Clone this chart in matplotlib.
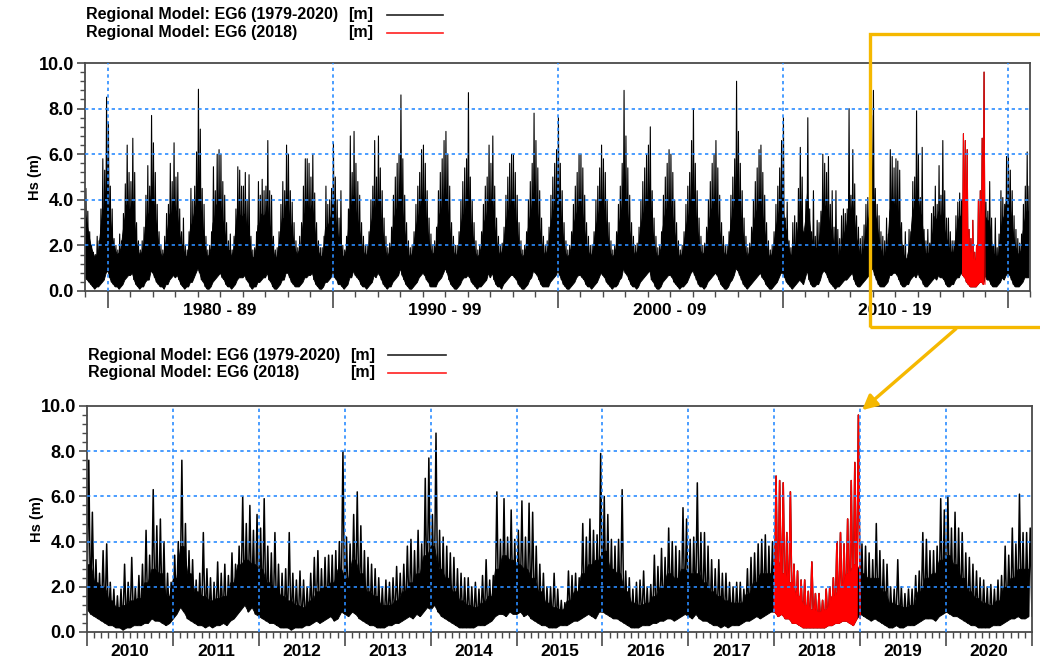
import matplotlib

matplotlib.use("Agg")
import matplotlib.pyplot as plt
import numpy as np
from matplotlib.lines import Line2D
from matplotlib.patches import FancyArrowPatch, Rectangle
from matplotlib.ticker import MultipleLocator
from matplotlib.transforms import blended_transform_factory

plt.rcParams["font.family"] = ["Liberation Sans", "DejaVu Sans"]
plt.rcParams["font.weight"] = "bold"

# --- data ----------------------------------------------------------------
# Hs [m], 2010..2020: half-monthly peaks / lows (24 per year),
# monthly level of the solid band (12 per year)
ZOOM_YEARS = list(range(2010, 2021))
HALF_MONTH_MAX = [
    [7.6, 5.3, 3.2, 2.6, 3.6, 3.9, 2.2, 1.9, 1.6, 1.9, 3.0, 2.2, 3.3, 2.0, 2.5, 3.0, 4.5, 3.4, 6.3, 4.7, 5.0, 4.0, 2.6, 2.2],
    [3.4, 4.0, 7.6, 4.8, 3.6, 3.2, 2.3, 2.6, 4.4, 2.8, 2.4, 2.2, 3.1, 2.6, 3.0, 2.5, 3.5, 3.0, 3.8, 6.0, 4.8, 5.6, 4.5, 5.2],
    [4.6, 5.9, 3.8, 3.5, 4.4, 3.0, 2.6, 2.8, 4.4, 2.6, 2.3, 2.7, 2.3, 2.0, 2.6, 3.3, 3.6, 2.8, 3.3, 3.4, 3.4, 3.6, 4.0, 8.0],
    [4.2, 3.9, 5.2, 6.2, 4.7, 3.6, 3.3, 3.0, 2.8, 2.4, 2.0, 2.3, 2.2, 2.4, 2.9, 2.6, 3.0, 3.8, 4.1, 3.6, 4.5, 3.9, 6.8, 7.7],
    [5.2, 8.8, 4.5, 4.2, 3.8, 3.5, 3.3, 2.8, 2.6, 2.4, 2.4, 2.0, 2.2, 1.9, 2.5, 3.2, 2.3, 2.5, 6.2, 4.1, 5.9, 4.2, 5.4, 4.1],
    [4.5, 5.8, 4.2, 5.7, 5.3, 3.8, 3.0, 2.6, 2.0, 2.0, 2.6, 1.9, 1.4, 1.3, 2.7, 2.5, 2.6, 2.4, 4.8, 4.2, 5.0, 4.5, 4.3, 7.9],
    [6.0, 5.2, 4.1, 3.8, 4.1, 6.3, 2.7, 2.4, 1.9, 2.2, 2.3, 2.7, 2.0, 2.1, 3.4, 2.9, 3.7, 3.3, 4.6, 4.0, 3.8, 3.6, 5.5, 5.0],
    [4.1, 4.2, 6.6, 4.4, 4.4, 3.8, 3.2, 2.8, 3.2, 2.6, 2.6, 2.2, 2.0, 2.2, 2.2, 1.9, 2.8, 3.3, 3.5, 3.9, 4.1, 4.3, 3.8, 4.0],
    [6.9, 6.7, 6.6, 4.4, 6.2, 3.0, 2.7, 2.3, 2.3, 1.8, 3.1, 1.7, 1.7, 1.4, 1.9, 2.0, 2.4, 4.0, 4.4, 3.9, 5.0, 6.7, 7.5, 9.6],
    [3.9, 3.8, 3.5, 3.2, 4.8, 3.6, 3.2, 3.0, 2.0, 1.9, 3.2, 2.0, 1.7, 1.9, 1.9, 2.5, 2.7, 4.4, 4.1, 3.6, 3.6, 3.8, 5.9, 5.4],
    [6.0, 4.6, 5.3, 4.6, 4.4, 3.5, 3.3, 3.0, 2.7, 2.4, 2.3, 2.0, 2.1, 1.9, 2.3, 2.5, 3.8, 3.4, 4.6, 3.9, 6.1, 4.4, 4.4, 4.6],
]
HALF_MONTH_MIN = [
    [1.0, 0.8, 0.7, 0.6, 0.5, 0.4, 0.3, 0.3, 0.2, 0.2, 0.1, 0.2, 0.2, 0.3, 0.3, 0.3, 0.4, 0.4, 0.6, 0.5, 0.5, 0.4, 0.3, 0.4],
    [0.6, 0.8, 1.1, 0.9, 0.6, 0.5, 0.4, 0.3, 0.3, 0.2, 0.3, 0.2, 0.3, 0.3, 0.4, 0.3, 0.5, 0.6, 0.8, 1.0, 1.2, 0.9, 1.1, 0.8],
    [0.7, 0.6, 0.5, 0.4, 0.4, 0.3, 0.2, 0.2, 0.2, 0.1, 0.2, 0.2, 0.2, 0.3, 0.3, 0.4, 0.5, 0.4, 0.5, 0.6, 0.7, 0.5, 0.6, 0.9],
    [0.8, 0.7, 0.9, 0.8, 0.6, 0.5, 0.4, 0.3, 0.3, 0.2, 0.2, 0.2, 0.3, 0.3, 0.4, 0.4, 0.5, 0.6, 0.7, 0.6, 0.8, 0.7, 0.9, 1.1],
    [1.0, 1.2, 0.9, 0.7, 0.6, 0.5, 0.4, 0.3, 0.2, 0.2, 0.2, 0.2, 0.2, 0.3, 0.3, 0.3, 0.4, 0.5, 0.7, 0.8, 0.8, 0.7, 0.9, 0.8],
    [0.8, 0.9, 0.7, 0.8, 0.6, 0.5, 0.4, 0.3, 0.3, 0.2, 0.2, 0.2, 0.3, 0.3, 0.3, 0.4, 0.5, 0.5, 0.6, 0.7, 0.8, 0.7, 0.6, 0.9],
    [0.9, 0.8, 0.7, 0.6, 0.6, 0.5, 0.4, 0.3, 0.2, 0.2, 0.2, 0.3, 0.3, 0.3, 0.4, 0.4, 0.5, 0.5, 0.6, 0.6, 0.5, 0.6, 0.7, 0.8],
    [0.7, 0.6, 0.8, 0.6, 0.5, 0.5, 0.4, 0.3, 0.3, 0.2, 0.3, 0.2, 0.3, 0.3, 0.3, 0.4, 0.5, 0.5, 0.6, 0.7, 0.6, 0.7, 0.8, 0.9],
    [0.9, 0.7, 0.8, 0.6, 0.6, 0.4, 0.4, 0.3, 0.2, 0.2, 0.2, 0.2, 0.2, 0.2, 0.2, 0.3, 0.3, 0.4, 0.4, 0.5, 0.5, 0.4, 0.3, 0.6],
    [0.8, 0.7, 0.6, 0.5, 0.6, 0.5, 0.4, 0.3, 0.2, 0.2, 0.3, 0.2, 0.2, 0.3, 0.3, 0.3, 0.4, 0.5, 0.6, 0.6, 0.6, 0.5, 0.7, 0.8],
    [0.9, 0.8, 0.7, 0.7, 0.6, 0.5, 0.4, 0.3, 0.3, 0.2, 0.2, 0.2, 0.2, 0.3, 0.3, 0.3, 0.4, 0.5, 0.6, 0.6, 0.7, 0.6, 0.6, 0.7],
]
ZOOM_BAND = [
    [3.0, 2.2, 2.0, 1.4, 1.1, 1.2, 1.4, 1.5, 2.2, 2.8, 2.6, 1.6],
    [2.4, 3.8, 2.6, 1.8, 1.6, 1.4, 1.5, 1.6, 2.2, 3.0, 3.2, 3.0],
    [2.8, 2.2, 2.0, 1.6, 1.4, 1.2, 1.1, 1.4, 1.8, 2.0, 2.2, 2.8],
    [2.4, 3.2, 2.6, 1.8, 1.6, 1.2, 1.2, 1.4, 1.8, 2.2, 2.6, 3.4],
    [3.8, 2.8, 2.4, 1.8, 1.4, 1.2, 1.1, 1.3, 1.6, 2.8, 3.4, 3.2],
    [3.0, 2.8, 2.4, 1.8, 1.3, 1.1, 1.0, 1.4, 1.8, 2.6, 3.0, 3.2],
    [3.6, 2.8, 2.6, 1.8, 1.3, 1.2, 1.3, 1.6, 2.0, 2.6, 2.4, 2.8],
    [2.6, 2.6, 2.2, 1.8, 1.6, 1.4, 1.3, 1.3, 1.7, 2.2, 2.6, 2.6],
    [3.2, 2.6, 2.2, 1.6, 1.2, 1.0, 0.9, 1.0, 1.6, 2.0, 2.6, 3.0],
    [2.6, 2.4, 2.4, 1.8, 1.3, 1.2, 1.1, 1.2, 1.8, 2.4, 2.6, 3.2],
    [3.4, 3.0, 2.4, 1.8, 1.5, 1.3, 1.2, 1.4, 2.0, 2.4, 2.8, 2.8],
]

# Hs [m], 1979..2009: monthly peaks / lows
LONG_YEARS = list(range(1979, 2010))
MONTH_MAX = [
    [4.5, 3.5, 2.6, 2.0, 1.7, 1.6, 2.4, 2.2, 3.6, 5.8, 5.3, 8.5],
    [7.4, 4.6, 3.6, 2.3, 2.0, 1.8, 2.5, 2.2, 3.4, 4.7, 6.4, 5.2],
    [4.8, 6.7, 5.2, 3.0, 2.2, 1.8, 2.2, 2.8, 4.2, 5.5, 4.6, 7.7],
    [6.5, 5.2, 3.8, 2.6, 2.0, 1.8, 2.4, 3.4, 3.8, 5.6, 4.8, 6.5],
    [5.0, 5.2, 3.6, 2.6, 3.2, 2.0, 1.8, 2.6, 4.5, 4.0, 4.6, 6.1],
    [8.85, 7.1, 4.5, 3.8, 2.4, 1.8, 2.0, 2.6, 5.45, 4.4, 6.0, 6.2],
    [6.0, 4.8, 4.2, 3.0, 2.2, 2.5, 1.8, 2.4, 3.6, 5.45, 5.3, 4.6],
    [4.6, 5.2, 4.0, 5.1, 2.4, 1.8, 1.9, 2.6, 4.8, 4.2, 4.9, 4.4],
    [4.6, 6.6, 4.4, 4.2, 2.4, 1.8, 1.9, 2.6, 3.8, 4.8, 4.4, 6.4],
    [6.0, 4.4, 3.9, 3.0, 2.2, 1.9, 2.4, 3.0, 4.6, 5.8, 5.8, 5.6],
    [5.0, 6.0, 4.3, 3.0, 2.2, 1.9, 1.9, 2.4, 4.6, 3.8, 4.0, 4.5],
    [6.5, 5.0, 4.0, 3.2, 4.4, 2.0, 1.8, 2.4, 3.6, 6.8, 5.2, 7.0],
    [5.6, 4.8, 4.2, 3.0, 2.4, 2.0, 2.0, 2.6, 4.0, 4.6, 6.6, 5.0],
    [6.8, 5.4, 4.4, 3.2, 2.4, 1.9, 2.1, 2.8, 4.2, 5.0, 5.6, 6.0],
    [8.6, 5.8, 4.2, 3.0, 2.2, 1.9, 2.0, 2.6, 3.8, 4.6, 5.2, 6.2],
    [6.4, 5.6, 4.4, 3.2, 2.5, 2.0, 2.2, 2.8, 4.4, 5.2, 5.8, 6.6],
    [7.0, 6.0, 4.6, 3.0, 2.4, 2.0, 2.0, 2.6, 4.0, 4.8, 5.4, 5.8],
    [8.7, 5.0, 4.0, 3.0, 2.2, 1.8, 2.0, 2.6, 3.8, 4.6, 5.0, 6.4],
    [5.6, 6.8, 4.6, 3.2, 2.4, 2.0, 2.1, 2.8, 4.2, 5.0, 5.6, 6.0],
    [6.0, 5.2, 4.2, 3.0, 2.2, 1.8, 2.0, 2.6, 4.0, 4.8, 5.6, 7.8],
    [6.6, 5.4, 4.4, 3.2, 2.4, 2.0, 2.2, 2.8, 4.2, 5.0, 5.6, 6.2],
    [7.6, 5.6, 4.4, 3.0, 2.2, 1.8, 2.0, 2.6, 3.8, 4.6, 5.2, 6.0],
    [6.0, 5.4, 4.2, 3.0, 2.4, 2.0, 2.0, 2.6, 4.0, 4.6, 5.4, 6.4],
    [5.8, 5.2, 4.0, 3.0, 2.2, 1.8, 2.0, 2.6, 3.8, 4.6, 5.6, 8.8],
    [6.8, 5.4, 4.2, 3.0, 2.4, 2.0, 2.1, 2.8, 4.0, 4.8, 5.4, 6.0],
    [6.4, 7.2, 4.4, 3.2, 2.4, 1.9, 2.0, 2.6, 4.2, 5.0, 5.6, 6.2],
    [6.0, 5.2, 4.0, 3.0, 2.2, 1.8, 2.0, 2.6, 3.8, 4.6, 5.2, 6.6],
    [8.0, 5.6, 4.4, 3.2, 2.4, 2.0, 2.1, 2.8, 4.0, 4.8, 5.6, 6.0],
    [6.6, 5.4, 4.2, 3.0, 2.4, 2.0, 2.0, 2.6, 4.2, 5.0, 5.8, 9.2],
    [7.0, 5.6, 4.4, 3.2, 2.4, 1.9, 2.1, 2.8, 4.0, 4.8, 5.4, 6.2],
    [6.4, 5.2, 4.2, 3.0, 2.2, 1.8, 2.0, 2.6, 3.8, 4.6, 5.4, 6.6],
]
MONTH_MIN = [
    [0.6, 0.5, 0.4, 0.3, 0.2, 0.1, 0.2, 0.2, 0.3, 0.4, 0.5, 0.8],
    [0.9, 0.6, 0.4, 0.3, 0.2, 0.2, 0.1, 0.2, 0.3, 0.5, 0.6, 0.7],
    [0.7, 0.8, 0.5, 0.3, 0.2, 0.1, 0.2, 0.2, 0.4, 0.5, 0.5, 0.9],
    [0.8, 0.6, 0.4, 0.3, 0.2, 0.2, 0.1, 0.3, 0.3, 0.5, 0.6, 0.7],
    [0.6, 0.7, 0.5, 0.3, 0.2, 0.1, 0.2, 0.2, 0.4, 0.4, 0.6, 0.8],
    [1.0, 0.8, 0.5, 0.4, 0.2, 0.1, 0.1, 0.2, 0.4, 0.5, 0.6, 0.7],
    [0.8, 0.6, 0.5, 0.3, 0.2, 0.2, 0.1, 0.2, 0.3, 0.5, 0.6, 0.6],
    [0.6, 0.7, 0.5, 0.4, 0.2, 0.1, 0.2, 0.2, 0.4, 0.4, 0.5, 0.6],
    [0.6, 0.8, 0.5, 0.4, 0.2, 0.1, 0.1, 0.2, 0.3, 0.5, 0.5, 0.8],
    [0.8, 0.6, 0.4, 0.3, 0.2, 0.2, 0.2, 0.3, 0.4, 0.6, 0.6, 0.7],
    [0.7, 0.8, 0.5, 0.3, 0.2, 0.1, 0.1, 0.2, 0.4, 0.4, 0.5, 0.6],
    [0.9, 0.6, 0.5, 0.3, 0.3, 0.2, 0.1, 0.2, 0.3, 0.6, 0.6, 0.9],
    [0.7, 0.6, 0.5, 0.3, 0.2, 0.2, 0.1, 0.2, 0.3, 0.4, 0.7, 0.6],
    [0.8, 0.7, 0.5, 0.3, 0.2, 0.1, 0.2, 0.2, 0.4, 0.5, 0.6, 0.7],
    [1.0, 0.7, 0.5, 0.3, 0.2, 0.1, 0.1, 0.2, 0.3, 0.4, 0.6, 0.7],
    [0.8, 0.7, 0.5, 0.4, 0.2, 0.2, 0.2, 0.2, 0.4, 0.5, 0.6, 0.8],
    [1.0, 0.8, 0.5, 0.3, 0.2, 0.1, 0.1, 0.2, 0.3, 0.5, 0.6, 0.6],
    [0.7, 0.6, 0.4, 0.3, 0.2, 0.1, 0.2, 0.2, 0.3, 0.4, 0.5, 0.8],
    [0.6, 0.8, 0.5, 0.3, 0.2, 0.2, 0.1, 0.3, 0.4, 0.5, 0.6, 0.7],
    [0.7, 0.6, 0.5, 0.3, 0.2, 0.1, 0.1, 0.2, 0.3, 0.5, 0.6, 0.9],
    [0.8, 0.7, 0.5, 0.3, 0.2, 0.2, 0.2, 0.2, 0.4, 0.5, 0.6, 0.7],
    [0.9, 0.7, 0.5, 0.3, 0.2, 0.1, 0.1, 0.2, 0.3, 0.4, 0.6, 0.7],
    [0.7, 0.6, 0.5, 0.3, 0.2, 0.2, 0.1, 0.2, 0.3, 0.4, 0.6, 0.8],
    [0.7, 0.6, 0.4, 0.3, 0.2, 0.1, 0.2, 0.2, 0.3, 0.5, 0.6, 1.0],
    [0.8, 0.7, 0.5, 0.3, 0.2, 0.2, 0.1, 0.2, 0.4, 0.5, 0.6, 0.7],
    [0.8, 0.9, 0.5, 0.4, 0.2, 0.1, 0.1, 0.2, 0.4, 0.5, 0.6, 0.7],
    [0.7, 0.6, 0.4, 0.3, 0.2, 0.1, 0.2, 0.2, 0.3, 0.4, 0.6, 0.8],
    [0.9, 0.7, 0.5, 0.3, 0.2, 0.2, 0.1, 0.2, 0.4, 0.5, 0.6, 0.7],
    [0.8, 0.7, 0.5, 0.3, 0.2, 0.1, 0.1, 0.2, 0.4, 0.5, 0.7, 1.0],
    [0.9, 0.7, 0.5, 0.3, 0.2, 0.1, 0.2, 0.3, 0.4, 0.5, 0.6, 0.7],
    [0.8, 0.6, 0.5, 0.3, 0.2, 0.1, 0.1, 0.2, 0.3, 0.4, 0.6, 0.8],
]
# level of the solid band in the long panel, 1979..2020
LONG_BAND = [
    [3.4, 2.9, 2.4, 2.0, 1.7, 1.5, 1.6, 1.8, 2.6, 3.4, 3.6, 4.4],
    [4.2, 3.4, 2.6, 2.1, 1.8, 1.6, 1.7, 1.9, 2.6, 3.2, 3.8, 3.6],
    [3.6, 4.0, 3.2, 2.3, 1.8, 1.6, 1.7, 2.0, 2.8, 3.4, 3.4, 4.2],
    [4.0, 3.4, 2.8, 2.1, 1.7, 1.5, 1.7, 2.2, 2.8, 3.4, 3.4, 4.0],
    [3.6, 3.4, 2.7, 2.1, 2.0, 1.6, 1.5, 1.9, 2.8, 3.0, 3.4, 3.8],
    [4.6, 4.0, 3.0, 2.5, 1.9, 1.5, 1.6, 1.9, 3.0, 3.2, 3.8, 3.9],
    [3.8, 3.2, 2.8, 2.2, 1.8, 1.8, 1.5, 1.8, 2.6, 3.4, 3.4, 3.3],
    [3.3, 3.4, 2.8, 2.8, 1.9, 1.5, 1.5, 1.9, 2.9, 3.0, 3.4, 3.3],
    [3.4, 3.8, 3.0, 2.6, 1.9, 1.5, 1.5, 1.9, 2.6, 3.2, 3.2, 3.8],
    [3.8, 3.2, 2.7, 2.2, 1.8, 1.6, 1.8, 2.1, 2.9, 3.4, 3.6, 3.6],
    [3.6, 3.8, 3.0, 2.2, 1.8, 1.6, 1.5, 1.8, 2.8, 2.8, 3.0, 3.3],
    [4.0, 3.4, 2.8, 2.3, 2.4, 1.6, 1.5, 1.8, 2.5, 3.6, 3.4, 4.2],
    [3.6, 3.2, 2.8, 2.2, 1.8, 1.6, 1.6, 1.9, 2.8, 3.2, 3.8, 3.4],
    [4.0, 3.5, 2.9, 2.3, 1.8, 1.5, 1.7, 2.0, 2.8, 3.3, 3.6, 3.8],
    [4.4, 3.6, 2.8, 2.2, 1.7, 1.5, 1.6, 1.9, 2.6, 3.1, 3.4, 3.8],
    [3.9, 3.5, 2.9, 2.3, 1.9, 1.6, 1.7, 2.0, 2.9, 3.4, 3.6, 4.0],
    [4.1, 3.7, 3.0, 2.2, 1.8, 1.6, 1.6, 1.9, 2.7, 3.2, 3.4, 3.6],
    [4.3, 3.3, 2.7, 2.2, 1.7, 1.5, 1.6, 1.9, 2.6, 3.1, 3.3, 3.9],
    [3.6, 4.0, 3.0, 2.3, 1.8, 1.6, 1.7, 2.0, 2.8, 3.3, 3.6, 3.8],
    [3.8, 3.4, 2.8, 2.2, 1.7, 1.5, 1.6, 1.9, 2.7, 3.2, 3.6, 4.3],
    [4.0, 3.5, 2.9, 2.3, 1.8, 1.6, 1.7, 2.0, 2.8, 3.3, 3.6, 3.8],
    [4.2, 3.6, 2.9, 2.2, 1.7, 1.5, 1.6, 1.9, 2.6, 3.1, 3.4, 3.7],
    [3.8, 3.5, 2.8, 2.2, 1.8, 1.6, 1.6, 1.9, 2.7, 3.1, 3.5, 3.9],
    [3.7, 3.4, 2.7, 2.2, 1.7, 1.5, 1.6, 1.9, 2.6, 3.1, 3.6, 4.4],
    [4.0, 3.5, 2.8, 2.2, 1.8, 1.6, 1.7, 2.0, 2.7, 3.2, 3.5, 3.7],
    [3.9, 4.1, 2.9, 2.3, 1.8, 1.5, 1.6, 1.9, 2.8, 3.3, 3.6, 3.8],
    [3.8, 3.4, 2.7, 2.2, 1.7, 1.5, 1.6, 1.9, 2.6, 3.1, 3.4, 4.0],
    [4.3, 3.6, 2.9, 2.3, 1.8, 1.6, 1.7, 2.0, 2.7, 3.2, 3.6, 3.8],
    [4.0, 3.5, 2.8, 2.2, 1.8, 1.6, 1.6, 1.9, 2.8, 3.3, 3.7, 4.5],
    [4.1, 3.6, 2.9, 2.3, 1.8, 1.5, 1.7, 2.0, 2.7, 3.2, 3.5, 3.8],
    [3.9, 3.4, 2.8, 2.2, 1.7, 1.5, 1.6, 1.9, 2.6, 3.1, 3.5, 4.0],
    [3.8, 2.9, 2.6, 2.0, 1.6, 1.6, 1.8, 1.9, 2.7, 3.4, 3.3, 2.4],
    [3.1, 4.3, 3.3, 2.4, 2.1, 1.8, 1.9, 2.0, 2.7, 3.6, 3.8, 3.7],
    [3.5, 2.9, 2.6, 2.1, 1.9, 1.6, 1.5, 1.8, 2.3, 2.6, 2.9, 3.6],
    [3.1, 3.9, 3.3, 2.4, 2.1, 1.6, 1.6, 1.8, 2.3, 2.9, 3.3, 4.2],
    [4.5, 3.5, 3.1, 2.4, 1.9, 1.6, 1.5, 1.7, 2.1, 3.5, 4.0, 3.9],
    [3.7, 3.5, 3.1, 2.4, 1.7, 1.5, 1.4, 1.8, 2.3, 3.3, 3.7, 3.9],
    [4.3, 3.5, 3.3, 2.4, 1.7, 1.6, 1.7, 2.1, 2.6, 3.3, 3.1, 3.5],
    [3.3, 3.3, 2.8, 2.4, 2.1, 1.8, 1.7, 1.7, 2.2, 2.8, 3.3, 3.3],
    [4.0, 3.4, 2.8, 2.1, 1.6, 1.4, 1.3, 1.4, 2.1, 2.6, 3.3, 3.7],
    [3.3, 3.1, 3.1, 2.4, 1.7, 1.6, 1.5, 1.6, 2.3, 3.1, 3.3, 3.9],
    [4.2, 3.8, 3.1, 2.4, 2.0, 1.7, 1.6, 1.8, 2.6, 3.1, 3.5, 3.5],
]

HIGHLIGHT_YEAR = 2018
DECADE_STARTS = [1980, 1990, 2000, 2010]
DECADE_LABELS = ["1980 - 89", "1990 - 99", "2000 - 09", "2010 - 19"]
LEGEND_NAMES = ["Regional Model: EG6 (1979-2020)", "Regional Model: EG6 (2018)"]
LEGEND_UNIT = "[m]"

GRID_BLUE = "#2b8cff"
GOLD = "#f5b800"
FRAME = "#4a4a4a"
W, H = 1040, 669


def draw_series(ax, years, lows, band, highs, color, lw):
    """Solid band from the lows up to the monthly band level, plus the
    trace swinging between each low and peak on top of it."""
    n = len(highs[0])
    t_fill, lo_fill, top_fill, t_line, v_line = [], [], [], [], []
    for year, lo_row, band_row, hi_row in zip(years, lows, band, highs):
        band_row = np.repeat(band_row, n // 12)
        for k in range(n):
            t0 = year + k / n
            t_fill.append(t0)
            lo_fill.append(lo_row[k])
            top_fill.append(max(band_row[k], lo_row[k]))
            t_line += [t0, t0 + 0.5 / n]
            v_line += [lo_row[k], hi_row[k]]
    t_line.append(years[-1] + 1)
    v_line.append(lows[-1][-1])
    ax.fill_between(t_fill, lo_fill, top_fill, color=color, lw=0.6,
                    edgecolor=color, zorder=2)
    ax.plot(t_line, v_line, color=color, lw=lw, zorder=2)


def fig_box(left, top, right, bottom):
    return [left / W, 1 - bottom / H, (right - left) / W, (bottom - top) / H]


def style_axes(ax):
    ax.set_ylim(0, 10)
    ax.yaxis.set_minor_locator(MultipleLocator(0.4))
    ax.set_yticks(np.arange(0, 10.1, 2))
    ax.set_yticklabels([f"{v:.1f}" for v in np.arange(0, 10.1, 2)])
    ax.tick_params(axis="y", which="major", length=6, width=1.2, labelsize=13,
                   color=FRAME, pad=2)
    ax.tick_params(axis="y", which="minor", length=3.5, width=1.0, color=FRAME)
    ax.tick_params(axis="x", which="major", length=12, width=1.2, color=FRAME,
                   labelbottom=False)
    ax.tick_params(axis="x", which="minor", length=4, width=1.0, color=FRAME)
    for spine in ax.spines.values():
        spine.set_color(FRAME)
        spine.set_linewidth(1.3)
    for level in (2, 4, 6, 8):
        ax.axhline(level, color=GRID_BLUE, lw=1.2, ls=(0, (2, 2)), zorder=3)
    ax.set_ylabel("Hs (m)", fontsize=10.5, fontweight="bold")
    ax.yaxis.set_label_coords(-0.046, 0.5)


def legend_block(y1, y2, x_text, x_unit, x_line0, x_line1):
    for y, name, color in ((y1, LEGEND_NAMES[0], "#222222"),
                           (y2, LEGEND_NAMES[1], "#ff2020")):
        fy = 1 - y / H
        fig.text(x_text / W, fy, name, fontsize=11.5, fontweight="bold",
                 va="center", ha="left")
        fig.text(x_unit / W, fy, LEGEND_UNIT, fontsize=11.5, fontweight="bold",
                 va="center", ha="left")
        fig.add_artist(Line2D([x_line0 / W, x_line1 / W], [fy, fy],
                              color=color, lw=1.2, transform=fig.transFigure))


recent_max = np.array(HALF_MONTH_MAX).reshape(len(ZOOM_YEARS), 12, 2).max(axis=2)
recent_min = np.array(HALF_MONTH_MIN).reshape(len(ZOOM_YEARS), 12, 2).min(axis=2)
all_years = LONG_YEARS + ZOOM_YEARS
all_max = MONTH_MAX + recent_max.tolist()
all_min = MONTH_MIN + recent_min.tolist()
hl = all_years.index(HIGHLIGHT_YEAR)
zl = ZOOM_YEARS.index(HIGHLIGHT_YEAR)

fig = plt.figure(figsize=(W / 100, H / 100), dpi=100)

# --- top panel: whole record ------------------------------------------------
ax_top = fig.add_axes(fig_box(85, 63, 1030, 291))
draw_series(ax_top, all_years, all_min, LONG_BAND, all_max, "black", 0.8)
draw_series(ax_top, [HIGHLIGHT_YEAR], [all_min[hl]], [LONG_BAND[hl]],
            [all_max[hl]], "red", 0.8)
ax_top.set_xlim(1979, 2021)
style_axes(ax_top)
ax_top.set_xticks(DECADE_STARTS + [2020])
ax_top.xaxis.set_minor_locator(MultipleLocator(1))
for x in DECADE_STARTS + [2020]:
    ax_top.axvline(x, color=GRID_BLUE, lw=1.2, ls=(0, (2, 2)), zorder=3)
trans = blended_transform_factory(ax_top.transData, ax_top.transAxes)
for start, label in zip(DECADE_STARTS, DECADE_LABELS):
    ax_top.text(start + 5, -0.085, label, transform=trans, ha="center",
                va="center", fontsize=12.5, fontweight="bold")

# --- bottom panel: 2010-2020 ------------------------------------------------
ax_bot = fig.add_axes(fig_box(87, 406, 1032, 632))
draw_series(ax_bot, ZOOM_YEARS, HALF_MONTH_MIN, ZOOM_BAND, HALF_MONTH_MAX,
            "black", 1.1)
draw_series(ax_bot, [HIGHLIGHT_YEAR], [HALF_MONTH_MIN[zl]], [ZOOM_BAND[zl]],
            [HALF_MONTH_MAX[zl]], "red", 1.1)
ax_bot.set_xlim(2010, 2021)
style_axes(ax_bot)
ax_bot.set_xticks(range(2010, 2022))
ax_bot.xaxis.set_minor_locator(MultipleLocator(1 / 12))
ax_bot.tick_params(axis="x", which="major", length=10)
for x in range(2011, 2021):
    ax_bot.axvline(x, color=GRID_BLUE, lw=1.2, ls=(0, (2, 2)), zorder=3)
trans = blended_transform_factory(ax_bot.transData, ax_bot.transAxes)
for year in ZOOM_YEARS:
    ax_bot.text(year + 0.5, -0.088, str(year), transform=trans, ha="center",
                va="center", fontsize=12.5, fontweight="bold")

legend_block(15, 33, 86, 348, 387, 443)
legend_block(355, 373, 88, 350, 388, 446)

# --- zoom call-out -----------------------------------------------------------
fig.add_artist(Rectangle((870 / W, 1 - 327 / H), 200 / W, 293 / H,
                         transform=fig.transFigure, fill=False,
                         edgecolor=GOLD, lw=2.4))
fig.add_artist(FancyArrowPatch((958 / W, 1 - 327 / H), (860 / W, 1 - 412 / H),
                               transform=fig.transFigure, arrowstyle="-|>",
                               mutation_scale=22, color=GOLD, lw=2.4))

fig.savefig("out.png", dpi=100)
